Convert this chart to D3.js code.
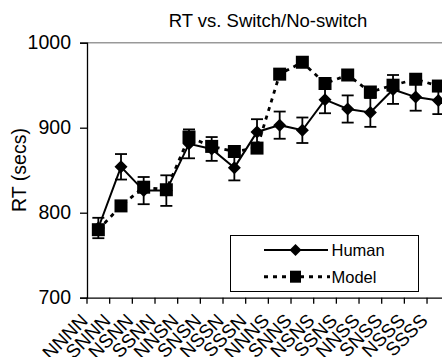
<!DOCTYPE html>
<html><head><meta charset="utf-8">
<script src="https://cdn.jsdelivr.net/npm/d3@7/dist/d3.min.js"></script>
<style>body{margin:0;background:#fff}svg{display:block;font-family:"Liberation Sans",Arial,sans-serif}</style>
</head><body><svg id="c" width="442" height="357"></svg>
<script>
const categories = ["NNNN","SNNN","NSNN","SSNN","NNSN","SNSN","NSSN","SSSN","NNNS","SNNS","NSNS","SSNS","NNSS","SNSS","NSSS","SSSS"];
const human = [782,854,826,826,881,875,853,895,903,897,933,922,918,945,936,932];
const humanErr = [12,15,16,18,17,14,15,15,16,15,16,16,17,17,16,16];
const model = [780,808,830,827,889,878,872,876,963,977,952,962,942,950,957,949];
const yTicks = [700,800,900,1000];

const svg = d3.select("#c");
const L = 87, T = 42.7, B = 297.7, R = 449.7;
const x = d3.scaleBand().domain(categories).range([L, R]);
const y = d3.scaleLinear().domain([700, 1000]).range([B, T]);
const cx = d => x(d) + x.bandwidth()/2;

// top frame
svg.append("line").attr("x1", L).attr("x2", 442).attr("y1", T).attr("y2", T)
  .attr("stroke", "#999").attr("stroke-width", 1.5);

// y axis
const ya = svg.append("g").attr("transform", `translate(${L},0)`)
  .call(d3.axisLeft(y).tickValues(yTicks).tickFormat(d3.format("d")).tickSize(7).tickPadding(9));
ya.selectAll("path,line").attr("stroke", "#000").attr("stroke-width", 1.3);
ya.selectAll("text").attr("font-size", 19.5).attr("fill", "#000").attr("font-family", "Liberation Sans, Arial, sans-serif");

// x axis
const xa = svg.append("g").attr("transform", `translate(0,${B})`)
  .call(d3.axisBottom(x).tickSize(0).tickFormat(""));
xa.select("path").attr("stroke", "#000").attr("stroke-width", 1.3);
svg.append("g").selectAll("line").data(categories).join("line")
  .attr("x1", d => x(d)).attr("x2", d => x(d)).attr("y1", B).attr("y2", B + 6)
  .attr("stroke", "#000").attr("stroke-width", 1.3);
svg.append("g").selectAll("text").data(categories).join("text")
  .attr("transform", d => `translate(${x(d) + 2},${B + 24}) rotate(-45)`)
  .attr("text-anchor", "end").attr("font-size", 19).attr("fill", "#000").text(d => d);

// y label
svg.append("text").attr("transform", "translate(26,170) rotate(-90)")
  .attr("text-anchor", "middle").attr("font-size", 19.5).text("RT (secs)");
// title
svg.append("text").attr("x", 268).attr("y", 26.5).attr("text-anchor", "middle")
  .attr("font-size", 18.5).text("RT vs. Switch/No-switch");

// model line
const line = d3.line().x((d, i) => cx(categories[i])).y(d => y(d));
svg.append("path").datum(model).attr("d", line).attr("fill", "none")
  .attr("stroke", "#000").attr("stroke-width", 2.8).attr("stroke-dasharray", "4,5");
// human line
svg.append("path").datum(human).attr("d", line).attr("fill", "none")
  .attr("stroke", "#000").attr("stroke-width", 2);
// error bars
const eb = svg.append("g").selectAll("g").data(human).join("g");
eb.append("line").attr("x1", (d, i) => cx(categories[i])).attr("x2", (d, i) => cx(categories[i]))
  .attr("y1", (d, i) => y(d + humanErr[i])).attr("y2", (d, i) => y(d - humanErr[i]))
  .attr("stroke", "#000").attr("stroke-width", 1.8);
[1, -1].forEach(s => {
  eb.append("line").attr("x1", (d, i) => cx(categories[i]) - 6).attr("x2", (d, i) => cx(categories[i]) + 6)
    .attr("y1", (d, i) => y(d + s * humanErr[i])).attr("y2", (d, i) => y(d + s * humanErr[i]))
    .attr("stroke", "#000").attr("stroke-width", 1.8);
});
// model squares
const sq = 13;
svg.append("g").selectAll("rect").data(model).join("rect")
  .attr("x", (d, i) => cx(categories[i]) - sq/2).attr("y", d => y(d) - sq/2)
  .attr("width", sq).attr("height", sq).attr("fill", "#000");
// human diamonds
const diamond = (px, py, r) => `M${px},${py - r}L${px + r},${py}L${px},${py + r}L${px - r},${py}Z`;
svg.append("g").selectAll("path").data(human).join("path")
  .attr("d", (d, i) => diamond(cx(categories[i]), y(d), 6.5)).attr("fill", "#000");

// legend
const lg = svg.append("g");
lg.append("rect").attr("x", 230.5).attr("y", 235.5).attr("width", 188).attr("height", 56)
  .attr("fill", "#fff").attr("stroke", "#000").attr("stroke-width", 1);
lg.append("line").attr("x1", 264).attr("x2", 328).attr("y1", 250).attr("y2", 250)
  .attr("stroke", "#000").attr("stroke-width", 2);
lg.append("path").attr("d", diamond(295.5, 250, 6)).attr("fill", "#000");
lg.append("text").attr("x", 331.5).attr("y", 256).attr("font-size", 16.5).text("Human");
lg.append("line").attr("x1", 264).attr("x2", 330).attr("y1", 276.7).attr("y2", 276.7)
  .attr("stroke", "#000").attr("stroke-width", 3).attr("stroke-dasharray", "4,5");
lg.append("rect").attr("x", 295.5 - 5.5).attr("y", 276.7 - 6).attr("width", 11).attr("height", 12).attr("fill", "#000");
lg.append("text").attr("x", 331.5).attr("y", 283).attr("font-size", 16.5).text("Model");
</script></body></html>
